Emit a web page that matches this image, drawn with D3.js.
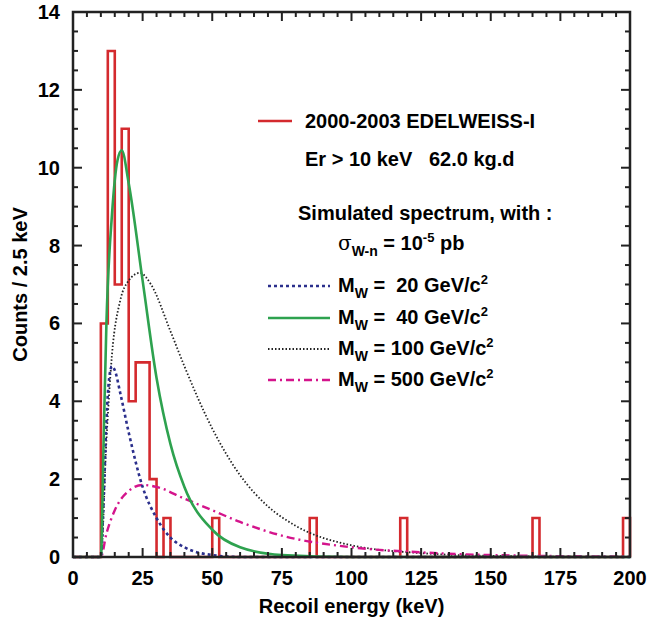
<!DOCTYPE html>
<html><head><meta charset="utf-8">
<script src="https://cdn.jsdelivr.net/npm/d3@7"></script>
<style>body{margin:0;background:#fff}text{font-family:"Liberation Sans",Arial,sans-serif;font-weight:bold}</style>
</head><body><svg id="c" width="658" height="626"></svg>
<script>
// histogram: bin start (keV), counts, width 2.5 (other bins are empty)
var binStarts = [10, 12.5, 15, 17.5, 20, 22.5, 25, 27.5, 32.5, 50, 85, 117.5, 165, 197.5];
var binCounts = [6, 13, 7, 11, 4, 5, 5, 2, 1, 1, 1, 1, 1, 1];
var m20 = [[0,0],[10,0],[11,1.5],[12,3.5],[13,4.6],[14,4.9],[15,4.8],[17,4.2],[20,3.2],[25,1.8],[30,1.0],[35,0.5],[40,0.25],[50,0.05],[60,0],[200,0]];
var m40 = [[0,0],[10,0],[11,3],[12,6],[14,8.8],[16,10.2],[17.5,10.45],[20,9.6],[25,7.1],[30,4.6],[35,2.9],[40,1.8],[50,0.7],[60,0.25],[75,0.05],[100,0],[200,0]];
var m100 = [[0,0],[10,0],[12,3],[14,5.2],[17,6.6],[20,7.1],[24,7.3],[28,7.0],[35,5.8],[40,4.9],[50,3.3],[60,2.1],[70,1.3],[80,0.8],[100,0.3],[125,0.1],[150,0.03],[200,0]];
var m500 = [[0,0],[10,0],[12,0.6],[15,1.2],[20,1.7],[25,1.85],[30,1.8],[40,1.5],[50,1.2],[60,0.9],[75,0.55],[100,0.25],[125,0.12],[150,0.05],[200,0.01]];
var xTicks = [0,25,50,75,100,125,150,175,200];
var yTicks = [0,2,4,6,8,10,12,14];

var svg = d3.select('#c');
var L = 73, R = 630, T = 12, B = 557;
var x = d3.scaleLinear().domain([0,200]).range([L,R]);
var y = d3.scaleLinear().domain([0,14]).range([B,T]);
var g = svg.append('g');

// histogram outline as one step path
var hist = d3.path();
hist.moveTo(x(0), y(0));
d3.range(0, 200, 2.5).forEach(function(s) {
  var i = binStarts.indexOf(s);
  var c = i < 0 ? 0 : binCounts[i];
  hist.lineTo(x(s), y(c));
  hist.lineTo(x(s+2.5), y(c));
});
hist.lineTo(x(200), y(0));

var line = d3.line().x(function(d){return x(d[0]);}).y(function(d){return y(d[1]);}).curve(d3.curveMonotoneX);
var curves = [
  {d: m100, c: '#222', w: 1.8, dash: '1.5,2'},
  {d: m500, c: '#d4148c', w: 2.4, dash: '8,4,2,4'},
  {d: m20, c: '#2b2f8c', w: 2.6, dash: '3,3'},
  {d: m40, c: '#2ea24f', w: 2.6, dash: null}
];
g.append('path').attr('d', hist.toString()).attr('fill','none').attr('stroke','#d42a2e').attr('stroke-width',2.6);
curves.forEach(function(cv){
  g.append('path').attr('d', line(cv.d)).attr('fill','none').attr('stroke',cv.c)
    .attr('stroke-width',cv.w).attr('stroke-dasharray',cv.dash);
});

// frame
svg.append('rect').attr('x',L).attr('y',T).attr('width',R-L).attr('height',B-T)
  .attr('fill','none').attr('stroke','#222').attr('stroke-width',2.5);
d3.range(0,201,5).forEach(function(v){
  var len = v%25===0 ? 9 : 5;
  svg.append('line').attr('x1',x(v)).attr('x2',x(v)).attr('y1',B).attr('y2',B-len).attr('stroke','#222').attr('stroke-width',2);
  svg.append('line').attr('x1',x(v)).attr('x2',x(v)).attr('y1',T).attr('y2',T+len).attr('stroke','#222').attr('stroke-width',2);
});
d3.range(0,14.01,0.5).forEach(function(v){
  var len = v%2===0 ? 9 : 5;
  svg.append('line').attr('y1',y(v)).attr('y2',y(v)).attr('x1',L).attr('x2',L+len).attr('stroke','#222').attr('stroke-width',2);
  svg.append('line').attr('y1',y(v)).attr('y2',y(v)).attr('x1',R).attr('x2',R-len).attr('stroke','#222').attr('stroke-width',2);
});
xTicks.forEach(function(v){
  svg.append('text').attr('x',x(v)).attr('y',B+28).attr('text-anchor','middle').attr('font-size',20).text(v);
});
yTicks.forEach(function(v){
  svg.append('text').attr('x',L-13).attr('y',y(v)+7).attr('text-anchor','end').attr('font-size',20).text(v);
});
svg.append('text').attr('x',(L+R)/2).attr('y',613).attr('text-anchor','middle').attr('font-size',20).text('Recoil energy (keV)');
svg.append('text').attr('transform','translate(27,'+((T+B)/2)+') rotate(-90)').attr('text-anchor','middle').attr('font-size',20).text('Counts / 2.5 keV');

// legend
var fs = 20;
svg.append('line').attr('x1',258).attr('x2',292).attr('y1',121).attr('y2',121).attr('stroke','#d42a2e').attr('stroke-width',2.6);
svg.append('text').attr('x',305).attr('y',128).attr('font-size',fs).text('2000-2003 EDELWEISS-I');
svg.append('text').attr('x',305).attr('y',166).attr('font-size',fs).style('white-space','pre').text('Er > 10 keV   62.0 kg.d');
svg.append('text').attr('x',298).attr('y',220).attr('font-size',fs).text('Simulated spectrum, with :');
var sg = svg.append('text').attr('x',338).attr('y',250).attr('font-size',fs);
sg.append('tspan').attr('font-family','DejaVu Serif').attr('font-weight','normal').text('σ');
sg.append('tspan').attr('dy',6).attr('font-size',14).text('W-n');
sg.append('tspan').attr('dy',-6).text(' = 10');
sg.append('tspan').attr('dy',-8).attr('font-size',13).text('-5');
sg.append('tspan').attr('dy',8).text(' pb');
var legItems = [
  {m:' =  20 GeV/c', cv: curves[2], yy: 292},
  {m:' =  40 GeV/c', cv: curves[3], yy: 324},
  {m:' = 100 GeV/c', cv: curves[0], yy: 355},
  {m:' = 500 GeV/c', cv: curves[1], yy: 386}
];
legItems.forEach(function(it){
  svg.append('line').attr('x1',268).attr('x2',330).attr('y1',it.yy-6).attr('y2',it.yy-6)
    .attr('stroke',it.cv.c).attr('stroke-width',it.cv.w).attr('stroke-dasharray',it.cv.dash);
  var t = svg.append('text').attr('x',338).attr('y',it.yy).attr('font-size',fs).style('white-space','pre');
  t.append('tspan').text('M');
  t.append('tspan').attr('dy',6).attr('font-size',14).text('W');
  t.append('tspan').attr('dy',-6).text(it.m);
  t.append('tspan').attr('dy',-8).attr('font-size',13).text('2');
});
</script></body></html>
